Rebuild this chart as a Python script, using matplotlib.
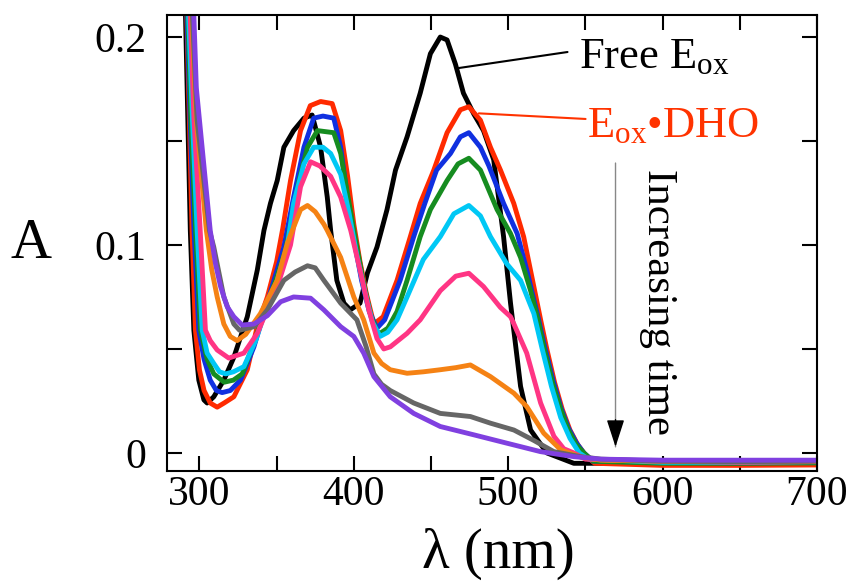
import matplotlib
matplotlib.use("Agg")
import matplotlib.pyplot as plt
from matplotlib.ticker import MultipleLocator

plt.rcParams['font.family'] = ['Liberation Serif', 'DejaVu Serif']
plt.rcParams['mathtext.fontset'] = 'custom'
plt.rcParams['mathtext.rm'] = 'Liberation Serif'
plt.rcParams['mathtext.it'] = 'Liberation Serif:italic'

# spectra (wavelength nm, absorbance)
wl_black = [290.2, 291, 292.5, 294.1, 296.4, 299.6, 302.9, 305, 309.3, 315.8, 322.3, 331, 337.5,
            341.8, 346, 350.4, 354.7, 361, 367.7, 373, 378.5, 382.8, 385, 389, 393.6, 397.7,
            404, 408.8, 415, 421.5, 427, 434.5, 443, 449.6, 456, 460.4, 465.8, 471, 477.7,
            484, 490.6, 497, 501.5, 508, 514.5, 525, 542.5, 560, 600, 650, 700]
a_black = [0.23, 0.21, 0.16, 0.107, 0.059, 0.035, 0.0255, 0.024, 0.027, 0.035, 0.046, 0.0655, 0.088,
           0.107, 0.12, 0.131, 0.147, 0.155, 0.161, 0.1625, 0.147, 0.123, 0.107, 0.083, 0.072, 0.0688,
           0.072, 0.0865, 0.099, 0.117, 0.136, 0.152, 0.173, 0.192, 0.200, 0.1986, 0.187, 0.173, 0.163,
           0.155, 0.141, 0.104, 0.072, 0.032, 0.011, 0.0, -0.005, -0.005, -0.0048, -0.0045, -0.0045]

wl_red = [291, 291.8, 293.5, 295.2, 297.4, 300, 303, 307, 311.5, 316, 322.3, 331, 337.5, 344, 350,
          354, 359, 365.5, 371.8, 378.5, 386, 391.5, 396, 400, 404, 408, 413, 419, 428, 436.6,
          443, 451.8, 460.4, 469, 474.5, 482, 488.5, 495, 503.6, 510, 516.6, 521, 525, 530, 535,
          540, 545, 550, 556, 600, 650, 700]
a_red = [0.23, 0.21, 0.16, 0.107, 0.059, 0.04, 0.030, 0.024, 0.022, 0.024, 0.027, 0.040, 0.061, 0.075, 0.092,
         0.108, 0.131, 0.155, 0.167, 0.169, 0.168, 0.155, 0.133, 0.11, 0.092, 0.077, 0.062, 0.0655, 0.083, 0.104,
         0.12, 0.136, 0.154, 0.165, 0.1665, 0.16, 0.147, 0.136, 0.12, 0.104, 0.080, 0.064, 0.05, 0.034, 0.021,
         0.011, 0.004, -0.001, -0.005, -0.006, -0.006, -0.0058]

wl_blue = [291.2, 292, 294, 296.5, 299.6, 303, 307, 311, 314.7, 320, 326.6, 335.3, 341.7, 348.3, 354.7,
           361, 367.7, 374, 380, 387, 391.5, 395.8, 400, 405, 410, 415, 420, 430, 438.8, 446, 453.6,
           462.6, 469, 474.5, 482, 487.5, 497, 505.8, 512, 518.8, 524, 529, 534, 539, 544, 549, 555,
           600, 650, 700]
a_blue = [0.23, 0.21, 0.16, 0.107, 0.059, 0.045, 0.035, 0.030, 0.029, 0.030, 0.035, 0.051, 0.067, 0.083, 0.099,
          0.123, 0.147, 0.161, 0.162, 0.161, 0.147, 0.123, 0.103, 0.083, 0.068, 0.060, 0.064, 0.083, 0.104, 0.12, 0.136,
          0.144, 0.152, 0.154, 0.147, 0.138, 0.12, 0.1055, 0.088, 0.067, 0.05, 0.035, 0.022, 0.012, 0.005, 0.0, -0.004,
          -0.0045, -0.0048, -0.0045]

wl_green = [291.7, 292.5, 294.5, 297.5, 300.7, 305, 309.3, 316, 322, 327.7, 335.3, 341.7, 349.4, 355.8,
            364.5, 370, 376.4, 387, 391.5, 395.8, 401, 406, 411, 416, 422, 428, 434.5, 443, 449.6,
            460.4, 467.5, 474.5, 482, 492.8, 501.5, 508, 514.5, 518.8, 524, 529, 534, 539, 544, 549,
            555, 600, 650, 700]
a_green = [0.23, 0.21, 0.16, 0.107, 0.059, 0.045, 0.038, 0.034, 0.035, 0.038, 0.053, 0.067, 0.083, 0.0976,
           0.131, 0.147, 0.155, 0.154, 0.144, 0.125, 0.103, 0.083, 0.066, 0.057, 0.060, 0.068, 0.083, 0.104, 0.117,
           0.131, 0.139, 0.1417, 0.136, 0.117, 0.1055, 0.094, 0.078, 0.0655, 0.048, 0.033, 0.021, 0.011, 0.004, 0.0,
           -0.004, -0.005, -0.005, -0.0048]

wl_cyan = [292.2, 293, 295.5, 298.5, 301.8, 305, 309.3, 313, 317, 322, 328.8, 336.4, 341.7, 350.4, 357,
           361, 367.7, 374, 380, 385, 391.5, 397, 402, 407, 412, 417, 422, 428, 434.5, 445, 456,
           464.8, 474.5, 482, 488.5, 499, 508, 516.6, 522, 528, 534, 540, 546, 552, 600, 650, 700]
a_cyan = [0.23, 0.21, 0.16, 0.107, 0.059, 0.048, 0.043, 0.039, 0.038, 0.039, 0.0415, 0.054, 0.066, 0.083, 0.10,
          0.12, 0.139, 0.147, 0.147, 0.144, 0.134, 0.115, 0.095, 0.078, 0.063, 0.056, 0.058, 0.064, 0.075, 0.093, 0.104,
          0.115, 0.119, 0.114, 0.104, 0.091, 0.083, 0.067, 0.05, 0.032, 0.017, 0.007, 0.0, -0.003, -0.0045, -0.0045,
          -0.0042]

wl_pink = [293.2, 294, 296.5, 300.5, 303.9, 307, 311.5, 319, 328.8, 337.5, 344, 352.6, 359, 365.5, 372,
           378, 385, 391.5, 398, 404, 410, 415, 419.4, 423.6, 434.5, 443, 456, 466, 474.5, 484, 494.9,
           501.5, 503.7, 512, 521, 529.6, 536, 542.5, 550, 600, 650, 700]
a_pink = [0.23, 0.21, 0.16, 0.107, 0.059, 0.054, 0.0495, 0.0456, 0.048, 0.0575, 0.069, 0.085, 0.10, 0.128, 0.14,
          0.138, 0.133, 0.123, 0.107, 0.088, 0.068, 0.055, 0.050, 0.051, 0.0575, 0.064, 0.078, 0.085, 0.0864, 0.080,
          0.070, 0.0655, 0.062, 0.048, 0.024, 0.008, 0.002, 0.0, -0.003, -0.004, -0.0045, -0.0042]

wl_orange = [294.2, 295, 298, 304.5, 308, 311.5, 315.8, 320, 324.4, 330, 339.5, 350.4, 357, 365.5, 370,
             375, 380.6, 382.8, 391.5, 400, 406.4, 413, 418, 423.6, 434.5, 445, 456, 466, 475.5, 488.5,
             503.7, 512, 523, 534, 547, 560, 600, 650, 700]
a_orange = [0.23, 0.21, 0.16, 0.107, 0.088, 0.075, 0.062, 0.056, 0.054, 0.057, 0.067, 0.083, 0.101, 0.117, 0.119,
            0.116, 0.110, 0.107, 0.094, 0.075, 0.064, 0.048, 0.043, 0.040, 0.0383, 0.039, 0.040, 0.041, 0.0423, 0.0367,
            0.0287, 0.0223, 0.0095, 0.0015, -0.002, -0.0035, -0.004, -0.0042, -0.004]

wl_gray = [294.7, 295.5, 298.5, 306.5, 309.3, 315.8, 322.3, 326, 335.3, 344, 354.7, 362, 370, 375, 380.6,
           391.5, 402, 408, 413, 418, 423.6, 438.8, 456, 475.5, 488.5, 503.7, 516.6, 529.6, 547, 560,
           600, 650, 700]
a_gray = [0.23, 0.21, 0.16, 0.107, 0.099, 0.075, 0.062, 0.059, 0.0607, 0.0688, 0.083, 0.087, 0.090, 0.089, 0.083,
          0.072, 0.064, 0.051, 0.038, 0.033, 0.030, 0.024, 0.019, 0.0175, 0.0143, 0.011, 0.006, 0.0006, -0.0018, -0.003,
          -0.004, -0.0042, -0.004]

wl_purple = [295.6, 296.4, 298, 307, 310.4, 313.7, 318, 322.3, 327.7, 335.3, 344, 352.6, 361, 372, 380.6,
             391.5, 400, 406.4, 413, 423.6, 438.8, 456, 477.7, 499, 521, 542.5, 560, 600, 650, 700]
a_purple = [0.23, 0.21, 0.1755, 0.107, 0.091, 0.080, 0.0703, 0.0655, 0.0615, 0.062, 0.066, 0.0727, 0.075, 0.0744,
            0.0688, 0.0607, 0.056, 0.048, 0.0367, 0.027, 0.019, 0.0127, 0.0087, 0.0047, 0.0006, -0.0018, -0.003,
            -0.0035, -0.0035, -0.0035]

series = [
    (wl_black, a_black, '#000000'),
    (wl_red, a_red, '#ff2a00'),
    (wl_blue, a_blue, '#1030e0'),
    (wl_green, a_green, '#168c20'),
    (wl_cyan, a_cyan, '#00c8f5'),
    (wl_pink, a_pink, '#ff3584'),
    (wl_orange, a_orange, '#f58214'),
    (wl_gray, a_gray, '#666666'),
    (wl_purple, a_purple, '#8040e0'),
]

fig = plt.figure(figsize=(8.52, 5.82), dpi=100)
ax = fig.add_axes([167 / 852, 111 / 582, 650 / 852, 456 / 582])

for wl, a, col in series:
    ax.plot(wl, a, color=col, lw=3.5, solid_joinstyle='round', solid_capstyle='round')

ax.set_xlim(279, 700)
ax.set_ylim(-0.0087, 0.2106)
ax.xaxis.set_major_locator(MultipleLocator(100))
ax.xaxis.set_minor_locator(MultipleLocator(50))
ax.yaxis.set_major_locator(MultipleLocator(0.1))
ax.yaxis.set_minor_locator(MultipleLocator(0.05))
ax.set_yticks([0, 0.1, 0.2])
ax.set_yticklabels(['0', '0.1', '0.2'])
ax.tick_params(which='both', direction='in', top=True, right=True, length=11, width=1.5,
               labelsize=30)
ax.tick_params(axis='x', which='both', pad=3)
ax.tick_params(axis='y', which='both', pad=15)
for sp in ax.spines.values():
    sp.set_linewidth(1.5)

fig.text(498 / 852, 14 / 582, u'\u03bb (nm)', ha='center', va='baseline', fontsize=41)
fig.text(31 / 852, 324 / 582, 'A', ha='center', va='baseline', fontsize=41)

# leader lines and labels
ax.annotate('', xy=(467.1, 0.185), xytext=(538.4, 0.1928),
            arrowprops=dict(arrowstyle='-', color='black', lw=1.5, shrinkA=0, shrinkB=0))
ax.text(545.7, 0.185, r'Free E$_{\rm ox}$', fontsize=32, ha='left', va='baseline')
ax.annotate('', xy=(481, 0.1633), xytext=(550.1, 0.1606),
            arrowprops=dict(arrowstyle='-', color='#ff3300', lw=1.5, shrinkA=0, shrinkB=0))
ax.text(551.2, 0.152, u'E$_{\\rm ox}$\u2022DHO', fontsize=32, ha='left', va='baseline',
        color='#ff3300')

ax.annotate('', xy=(569.5, 0.0029), xytext=(569.5, 0.1394),
            arrowprops=dict(arrowstyle='-', color='#888888', lw=1, shrinkA=0, shrinkB=0))
ax.annotate('', xy=(569.5, 0.0029), xytext=(569.5, 0.016),
            arrowprops=dict(arrowstyle='-|>,head_length=1.7,head_width=0.55', color='black',
                            lw=1, shrinkA=0, shrinkB=0))
ax.text(597.5, 0.0725, 'Increasing time', fontsize=31, rotation=270, ha='center', va='center')

fig.savefig('out.png', dpi=100)
